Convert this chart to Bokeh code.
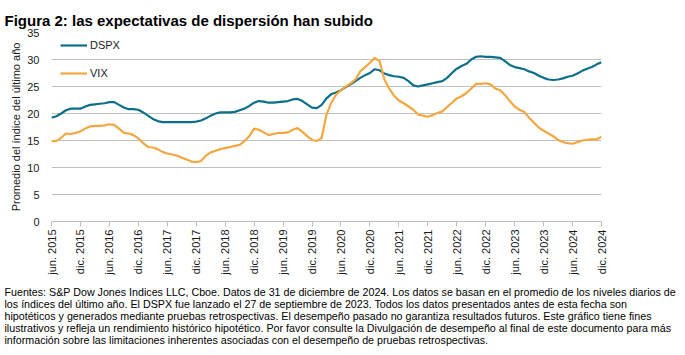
import math
from bokeh.plotting import figure
from bokeh.models import FixedTicker, Legend, LegendItem, Range1d, Title
from bokeh.embed import file_html
from bokeh.resources import INLINE

# Monthly values, June 2015 (index 0) through December 2024 (index 114)
DSPX = [19.2, 19.5, 20.0, 20.6, 20.9, 20.9, 20.9, 21.3, 21.6, 21.7,
        21.8, 21.9, 22.1, 22.1, 21.6, 21.1, 20.8, 20.8, 20.7, 20.2,
        19.6, 19.0, 18.6, 18.4, 18.4, 18.4, 18.4, 18.4, 18.4, 18.4,
        18.5, 18.7, 19.1, 19.6, 20.0, 20.2, 20.2, 20.2, 20.3, 20.6,
        20.9, 21.4, 22.0, 22.3, 22.2, 22.0, 22.0, 22.1, 22.2, 22.3,
        22.6, 22.7, 22.3, 21.7, 21.1, 21.0, 21.6, 22.8, 23.6, 23.9,
        24.3, 24.9, 25.4, 26.0, 26.6, 27.1, 27.5, 28.2, 28.0, 27.4,
        27.1, 26.9, 26.8, 26.6, 26.0, 25.2, 25.0, 25.2, 25.4, 25.6,
        25.8, 26.0, 26.6, 27.5, 28.3, 28.8, 29.2, 30.0, 30.5, 30.6,
        30.5, 30.5, 30.4, 30.3, 29.7, 29.0, 28.6, 28.4, 28.2, 27.8,
        27.5, 27.0, 26.6, 26.3, 26.2, 26.3, 26.5, 26.8, 27.0, 27.4,
        27.9, 28.3, 28.6, 29.1, 29.5]
VIX = [14.9, 14.9, 15.5, 16.3, 16.2, 16.4, 16.7, 17.2, 17.6, 17.7,
       17.7, 17.8, 18.0, 17.9, 17.2, 16.4, 16.3, 16.0, 15.4, 14.5,
       13.8, 13.7, 13.4, 12.9, 12.6, 12.4, 12.2, 11.8, 11.5, 11.1,
       11.0, 11.2, 12.2, 12.8, 13.1, 13.4, 13.6, 13.8, 14.0, 14.2,
       14.9, 15.8, 17.2, 17.0, 16.5, 16.0, 16.2, 16.4, 16.4, 16.5,
       17.0, 17.3, 16.6, 15.8, 15.1, 14.9, 15.5, 19.8, 22.0, 23.5,
       24.3, 25.0, 25.6, 26.3, 27.8, 28.6, 29.4, 30.3, 29.7, 26.3,
       24.6, 23.3, 22.4, 21.9, 21.3, 20.7, 19.8, 19.6, 19.4, 19.7,
       20.1, 20.4, 21.2, 22.0, 22.8, 23.2, 23.8, 24.6, 25.5, 25.5,
       25.6, 25.4, 24.6, 24.3, 23.4, 22.3, 21.3, 20.7, 20.3, 19.2,
       18.3, 17.4, 16.8, 16.3, 15.8, 15.1, 14.7, 14.5, 14.4, 14.7,
       15.0, 15.1, 15.2, 15.2, 15.7]
TICK_LABELS = ["jun. 2015", "dic. 2015", "jun. 2016", "dic. 2016", "jun. 2017",
               "dic. 2017", "jun. 2018", "dic. 2018", "jun. 2019", "dic. 2019",
               "jun. 2020", "dic. 2020", "jun. 2021", "dic. 2021", "jun. 2022",
               "dic. 2022", "jun. 2023", "dic. 2023", "jun. 2024", "dic. 2024"]
Y_TICKS = [0, 5, 10, 15, 20, 25, 30, 35]
TITLE = "Figura 2: las expectativas de dispersión han subido"
Y_LABEL = "Promedio del índice del último año"
FOOTNOTE = [
    "Fuentes: S&P Dow Jones Indices LLC, Cboe. Datos de 31 de diciembre de 2024. Los datos se basan en el promedio de los niveles diarios de",
    "los índices del último año. El DSPX fue lanzado el 27 de septiembre de 2023. Todos los datos presentados antes de esta fecha son",
    "hipotéticos y generados mediante pruebas retrospectivas. El desempeño pasado no garantiza resultados futuros. Este gráfico tiene fines",
    "ilustrativos y refleja un rendimiento histórico hipotético. Por favor consulte la Divulgación de desempeño al final de este documento para más",
    "información sobre las limitaciones inherentes asociadas con el desempeño de pruebas retrospectivas.",
]

FONT = "Liberation Sans"
TEXT = "#1a1a1a"
GRID = "#c0c0c0"
LEFT = 51

months = list(range(len(DSPX)))
tick_pos = months[::6]

W, H = 685, 355
p = figure(width=W, height=H, output_backend="svg", toolbar_location=None,
           x_range=Range1d(0, len(DSPX) - 1), y_range=Range1d(0, 35),
           min_border_left=LEFT, min_border_right=84, min_border_top=32,
           min_border_bottom=134)
p.outline_line_color = None
p.background_fill_color = "white"
p.border_fill_color = "white"

p.title.text = TITLE
p.title.align = "left"
p.title.offset = 4 - LEFT
p.title.standoff = 7
p.title.text_font = FONT
p.title.text_font_size = "15px"
p.title.text_font_style = "bold"
p.title.text_color = "#000000"

l1 = p.line(months, DSPX, line_color="#0b6f8a", line_width=2.2)
l2 = p.line(months, VIX, line_color="#f4a641", line_width=2.2)

p.xgrid.grid_line_color = None
p.ygrid.grid_line_color = GRID
p.ygrid.grid_line_width = 1
p.yaxis.ticker = FixedTicker(ticks=Y_TICKS)
p.yaxis.axis_line_color = None
p.yaxis.major_tick_line_color = None
p.yaxis.minor_tick_line_color = None
p.yaxis.major_label_standoff = 6
p.yaxis.major_label_text_font = FONT
p.yaxis.major_label_text_font_size = "11px"
p.yaxis.major_label_text_color = TEXT
p.yaxis.axis_label = Y_LABEL
p.yaxis.axis_label_text_font = FONT
p.yaxis.axis_label_text_font_size = "11px"
p.yaxis.axis_label_text_font_style = "normal"
p.yaxis.axis_label_text_color = TEXT
p.yaxis.axis_label_standoff = 2

p.xaxis.ticker = FixedTicker(ticks=tick_pos)
p.xaxis.major_label_overrides = {t: lab for t, lab in zip(tick_pos, TICK_LABELS)}
p.xaxis.major_label_orientation = math.pi / 2
p.xaxis.axis_line_color = GRID
p.xaxis.major_tick_line_color = GRID
p.xaxis.major_tick_in = 0
p.xaxis.major_tick_out = 5
p.xaxis.minor_tick_line_color = None
p.xaxis.major_label_standoff = 3
p.xaxis.major_label_text_font = FONT
p.xaxis.major_label_text_font_size = "11px"
p.xaxis.major_label_text_color = TEXT

legend = Legend(items=[LegendItem(label="DSPX", renderers=[l1]),
                       LegendItem(label="VIX", renderers=[l2])],
                location=(9, 138), orientation="vertical",
                glyph_width=27, glyph_height=20, spacing=8, padding=0, margin=0,
                label_standoff=3, label_text_font=FONT, label_text_font_size="11px",
                label_text_color=TEXT, border_line_alpha=0, background_fill_alpha=0)
p.add_layout(legend)

p.add_layout(Title(text="\n".join(FOOTNOTE), align="left", offset=4 - LEFT,
                   standoff=12, text_font=FONT, text_font_size="10.7px",
                   text_line_height=1.0, text_font_style="normal",
                   text_color="#000000"), "below")

open("out.html", "w").write(file_html(p, INLINE))
